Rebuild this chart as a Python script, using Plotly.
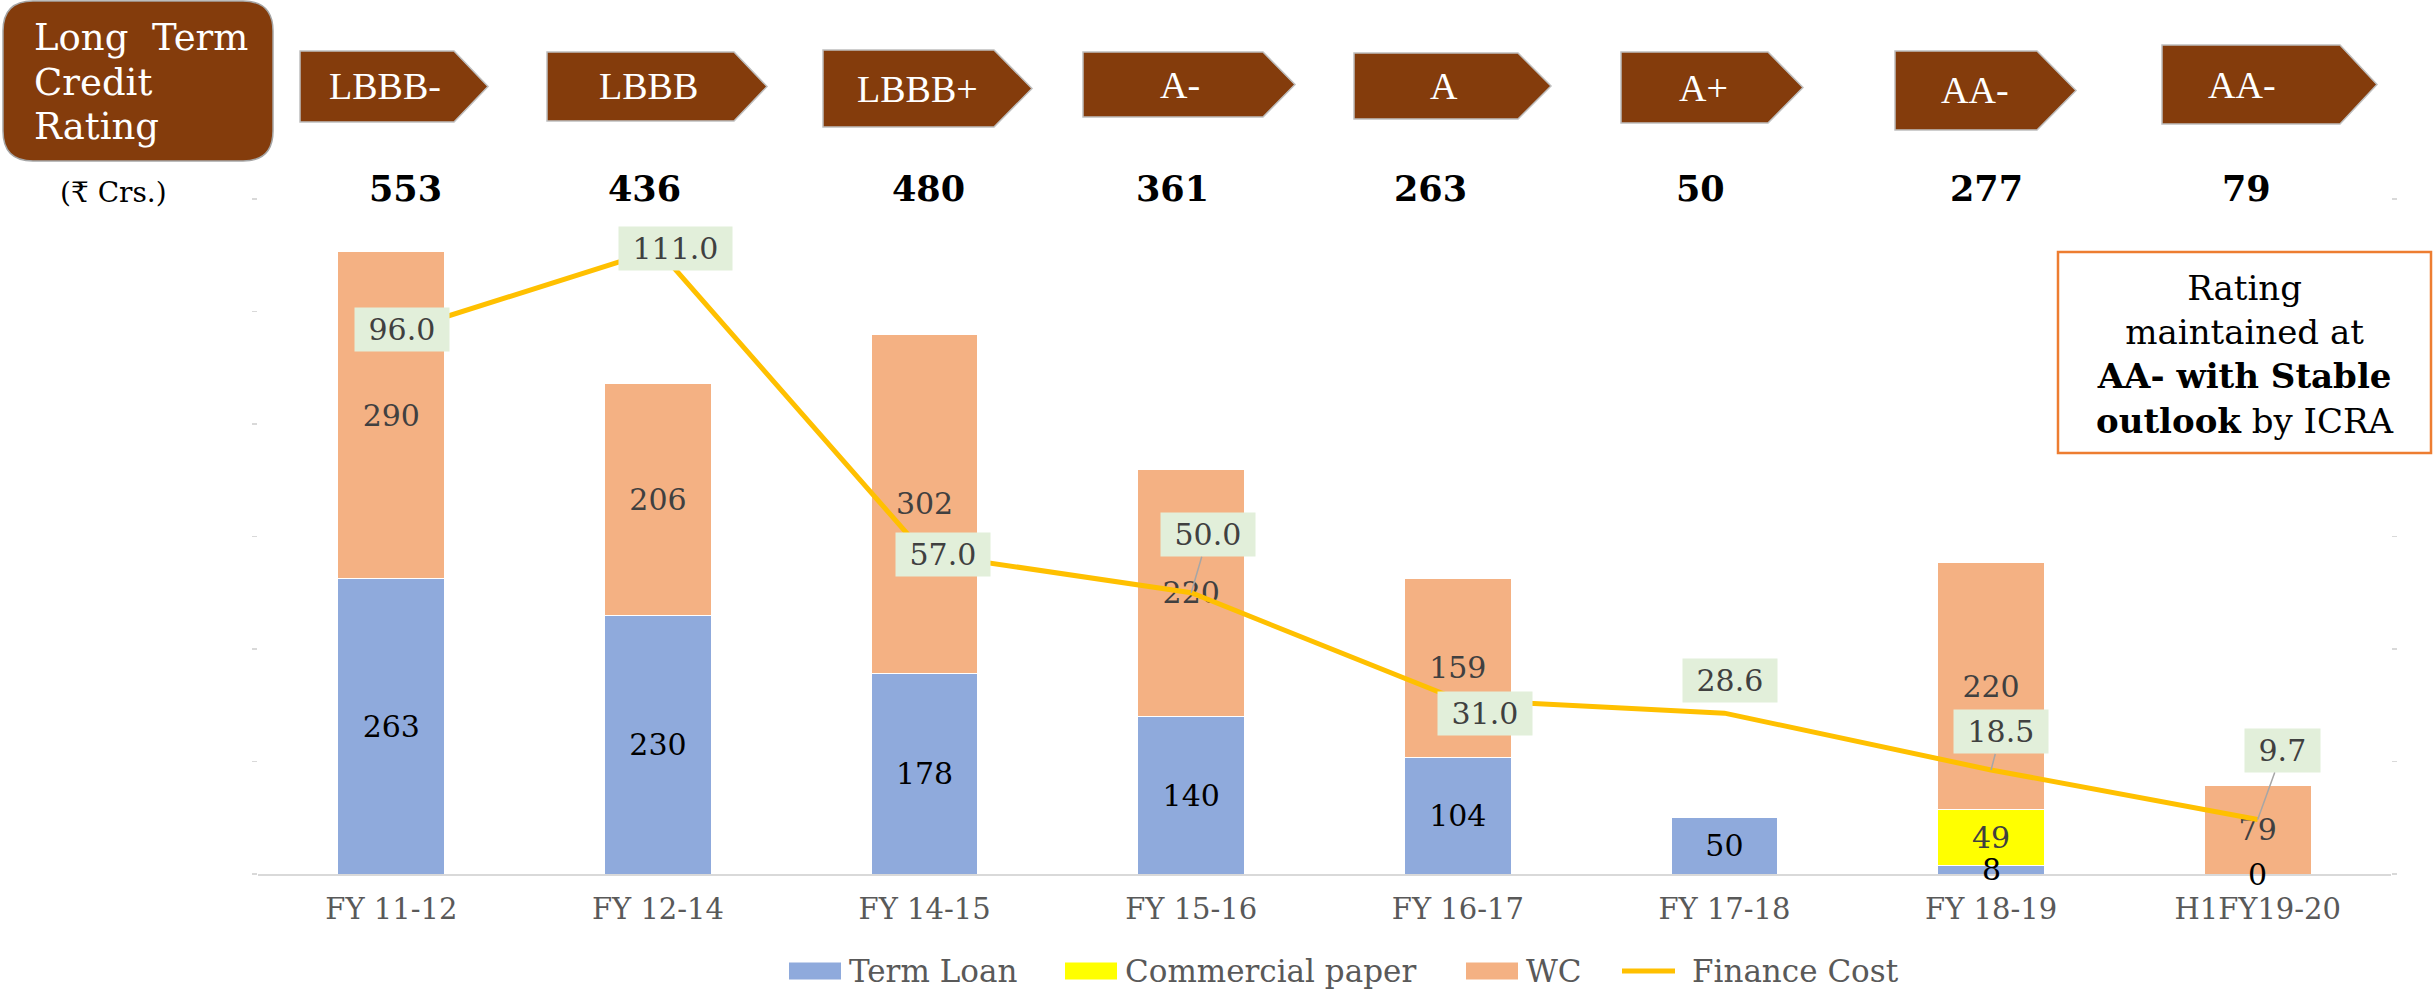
import plotly.graph_objects as go

# ---------------- data ----------------
categories = ["FY 11-12", "FY 12-14", "FY 14-15", "FY 15-16", "FY 16-17", "FY 17-18", "FY 18-19", "H1FY19-20"]
term_loan = [263, 230, 178, 140, 104, 50, 8, 0]
commercial_paper = [0, 0, 0, 0, 0, 0, 49, 0]
working_capital = [290, 206, 302, 220, 159, 0, 220, 79]
finance_cost = [96.0, 111.0, 57.0, 50.0, 31.0, 28.6, 18.5, 9.7]
total_debt = [553, 436, 480, 361, 263, 50, 277, 79]
ratings = ["LBBB-", "LBBB", "LBBB+", "A-", "A", "A+", "AA-", "AA-"]
series_names = ["Term Loan", "Commercial paper", "WC", "Finance Cost"]

# ---------------- layout constants (pixels) ----------------
W, H = 2433, 994
PL, PR, PT, PB = 258, 2391, 199, 874
SERIF = "DejaVu Serif"
BROWN = "#843C0C"
C_TL, C_CP, C_WC, C_FC = "#8FAADC", "#FFFF00", "#F4B183", "#FFC000"
SMALL = 25  # segments below this value get their label as a separate annotation


def px(xp):
    return (xp - PL) / (PR - PL)


def py(yp):
    return (PB - yp) / (PB - PT)


fig = go.Figure()

fig.add_trace(go.Bar(
    x=categories, y=term_loan, name=series_names[0], showlegend=False,
    marker=dict(color=C_TL, line=dict(color="white", width=1)),
    text=[str(v) if v >= SMALL else "" for v in term_loan], textposition="inside",
    insidetextanchor="middle", textangle=0,
    textfont=dict(family=SERIF, size=30, color="#000000"),
))
fig.add_trace(go.Bar(
    x=categories, y=commercial_paper, name=series_names[1], showlegend=False,
    marker=dict(color=C_CP, line=dict(color="white", width=1)),
    text=[str(v) if v else "" for v in commercial_paper], textposition="inside",
    insidetextanchor="middle", textangle=0,
    textfont=dict(family=SERIF, size=30, color="#404040"),
))
fig.add_trace(go.Bar(
    x=categories, y=working_capital, name=series_names[2], showlegend=False,
    marker=dict(color=C_WC, line=dict(color="white", width=1)),
    text=[str(v) if v else "" for v in working_capital], textposition="inside",
    insidetextanchor="middle", textangle=0,
    textfont=dict(family=SERIF, size=30, color="#404040"),
))
fig.add_trace(go.Scatter(
    x=categories, y=finance_cost, name=series_names[3], yaxis="y2", showlegend=False,
    mode="lines", line=dict(color=C_FC, width=5),
))

annotations = []
shapes = []

# small term-loan segment labels
for c, v in zip(categories, term_loan):
    if v < SMALL:
        annotations.append(dict(
            x=c, y=v / 2, xref="x", yref="y", text=str(v), showarrow=False,
            yanchor="middle", font=dict(family=SERIF, size=30, color="#000000"),
        ))

# finance cost labels (offsets of label box from its point, in px)
fc_offsets = [(11, -5), (18, -1), (18, 1), (17, -58), (27, 14), (6, -33), (10, -38), (25, -69)]
fc_leader = [False, False, False, True, False, False, True, True]
for c, v, (dx, dy), lead in zip(categories, finance_cost, fc_offsets, fc_leader):
    annotations.append(dict(
        x=c, y=v, xref="x", yref="y2", text="\u00a0%.1f\u00a0" % v,
        showarrow=True, ax=dx, ay=dy, arrowhead=0, arrowwidth=1.5, standoff=0,
        arrowcolor="#A6A6A6" if lead else "rgba(0,0,0,0)",
        bgcolor="#E2EFDA", borderpad=4,
        font=dict(family=SERIF, size=30, color="#404040"),
    ))

# totals row
tot_shift = [14, -13, 4, -19, -27, -24, -5, -11]
for c, t, s in zip(categories, total_debt, tot_shift):
    annotations.append(dict(
        x=c, y=py(188), xref="x", yref="paper", text="<b>%d</b>" % t,
        showarrow=False, xshift=s, yanchor="middle",
        font=dict(family=SERIF, size=35, color="#000000"),
    ))

# rating chevrons: left, body end, tip, top, bottom, text x
chevrons = [
    (300, 454, 488, 51, 122, 385),
    (547, 734, 767, 52, 121, 648),
    (823, 994, 1032, 50, 127, 917),
    (1083, 1263, 1295, 52, 117, 1180),
    (1354, 1518, 1551, 53, 119, 1444),
    (1621, 1768, 1803, 52, 123, 1703),
    (1895, 2037, 2076, 51, 130, 1975),
    (2162, 2340, 2377, 45, 124, 2242),
]
for (l, b, t, top, bot, tx), r in zip(chevrons, ratings):
    mid = (top + bot) / 2
    path = "M %f,%f L %f,%f L %f,%f L %f,%f L %f,%f Z" % (
        px(l), py(top), px(b), py(top), px(t), py(mid), px(b), py(bot), px(l), py(bot))
    shapes.append(dict(type="path", path=path, xref="paper", yref="paper",
                       fillcolor=BROWN, line=dict(color="#BFBFBF", width=1.5), layer="above"))
    annotations.append(dict(
        x=px(tx), y=py(mid), xref="paper", yref="paper", text=r, showarrow=False,
        xanchor="center", yanchor="middle",
        font=dict(family="Liberation Serif", size=38, color="white"),
    ))

# rounded title box
x0, x1, y0, y1, rr = 3, 273, 1, 161, 30
rpath = ("M {a},{b} L {c},{b} Q {x1},{b} {x1},{d} L {x1},{e} Q {x1},{f} {c},{f} "
         "L {a},{f} Q {x0},{f} {x0},{e} L {x0},{d} Q {x0},{b} {a},{b} Z").format(
    a=px(x0 + rr), b=py(y0), c=px(x1 - rr), d=py(y0 + rr), e=py(y1 - rr), f=py(y1),
    x0=px(x0), x1=px(x1))
shapes.append(dict(type="path", path=rpath, xref="paper", yref="paper",
                   fillcolor=BROWN, line=dict(color="#A6A6A6", width=1.5), layer="above"))
for txt, yy in [("Long\u00a0\u00a0Term", 38), ("Credit", 83), ("Rating", 127)]:
    annotations.append(dict(
        x=px(32), y=py(yy), xref="paper", yref="paper", text=txt, showarrow=False,
        xanchor="left", yanchor="middle",
        font=dict(family=SERIF, size=37, color="white"),
    ))

annotations.append(dict(
    x=px(113), y=py(192), xref="paper", yref="paper", text="(\u20b9 Crs.)", showarrow=False,
    xanchor="center", yanchor="middle", font=dict(family=SERIF, size=28, color="#000000"),
))

# rating note box
shapes.append(dict(type="rect", xref="paper", yref="paper",
                   x0=px(2058), x1=px(2431), y0=py(453), y1=py(252),
                   fillcolor="white", line=dict(color="#ED7D31", width=2.5), layer="above"))
annotations.append(dict(
    x=px(2245), y=py(354), xref="paper", yref="paper", showarrow=False,
    xanchor="center", yanchor="middle", align="center",
    text="Rating<br>maintained at<br><b>AA- with Stable</b><br><b>outlook</b> by ICRA",
    font=dict(family=SERIF, size=34, color="#000000"),
))

# custom legend (swatch x0, x1, text x)
LEG_Y = 971
legend_items = [
    ("bar", C_TL, 789, 841, 847),
    ("bar", C_CP, 1065, 1117, 1123),
    ("bar", C_WC, 1466, 1518, 1524),
    ("line", C_FC, 1620, 1677, 1690),
]
for name, (kind, col, sx0, sx1, tx) in zip(series_names, legend_items):
    if kind == "bar":
        shapes.append(dict(type="rect", xref="paper", yref="paper",
                           x0=px(sx0), x1=px(sx1), y0=py(LEG_Y + 8.5), y1=py(LEG_Y - 8.5),
                           fillcolor=col, line=dict(width=0)))
    else:
        shapes.append(dict(type="line", xref="paper", yref="paper",
                           x0=px(sx0 + 2), x1=px(sx1 - 2), y0=py(LEG_Y), y1=py(LEG_Y),
                           line=dict(color=col, width=5)))
    annotations.append(dict(
        x=px(tx), y=py(LEG_Y), xref="paper", yref="paper", text=name, showarrow=False,
        xanchor="left", yanchor="middle",
        font=dict(family=SERIF, size=31, color="#595959"),
    ))

fig.update_layout(
    width=W, height=H,
    margin=dict(l=PL, r=W - PR, t=PT, b=H - PB, pad=0),
    paper_bgcolor="white", plot_bgcolor="white",
    barmode="stack", bargap=0.6,
    uniformtext=dict(minsize=30, mode="show"),
    font=dict(family=SERIF, color="#595959"),
    showlegend=False,
    xaxis=dict(
        type="category", showgrid=False, zeroline=False,
        showline=True, linecolor="#D9D9D9", linewidth=2,
        ticks="", tickfont=dict(family=SERIF, size=29, color="#595959"),
        ticklabelstandoff=8,
    ),
    yaxis=dict(
        range=[0, 600], tickvals=[0, 100, 200, 300, 400, 500, 600],
        showticklabels=False, showgrid=False, zeroline=False, showline=False,
        ticks="outside", ticklen=5, tickcolor="#D9D9D9", tickwidth=1.5,
    ),
    yaxis2=dict(
        range=[0, 120], overlaying="y", side="right",
        tickvals=[0, 20, 40, 60, 80, 100, 120],
        showticklabels=False, showgrid=False, zeroline=False, showline=False,
        ticks="outside", ticklen=5, tickcolor="#D9D9D9", tickwidth=1.5,
    ),
    shapes=shapes,
    annotations=annotations,
)

fig.write_html(
    "out.html",
    config={"displayModeBar": False, "staticPlot": True},
    post_script="document.body.style.margin='0';document.body.style.padding='0';"
                "document.body.style.overflow='hidden';",
)
